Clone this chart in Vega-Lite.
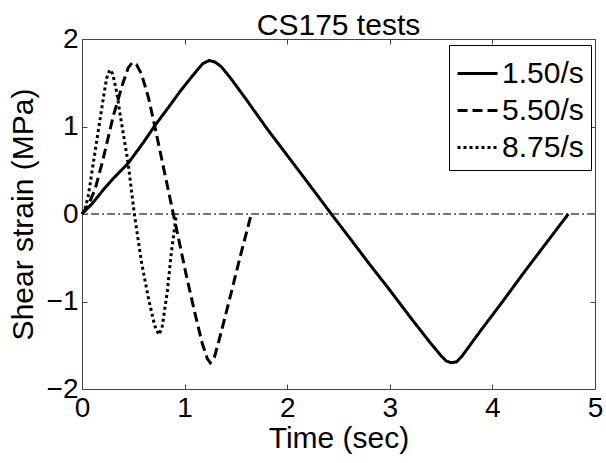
{
  "$schema": "https://vega.github.io/schema/vega-lite/v6.json",
  "width": 513,
  "height": 350,
  "autosize": {"type": "none"},
  "padding": {"left": 82, "top": 39, "right": 11, "bottom": 74},
  "background": "white",
  "title": {"text": "CS175 tests", "font": "Liberation Sans", "fontSize": 30, "fontWeight": "normal", "color": "black", "offset": -16},
  "config": {
    "view": {"stroke": "#444", "strokeWidth": 1},
    "axis": {"labelFont": "Liberation Sans", "titleFont": "Liberation Sans", "labelColor": "black", "titleColor": "black", "titleFontWeight": "normal", "grid": false, "domain": false, "tickColor": "#444", "tickSize": -5, "labelFontSize": 28, "titleFontSize": 30}
  },
  "data": {"values": [
    {"s": "1.50/s", "t": 0, "v": 0},
    {"s": "1.50/s", "t": 0.1, "v": 0.12},
    {"s": "1.50/s", "t": 0.21, "v": 0.28},
    {"s": "1.50/s", "t": 0.3, "v": 0.4},
    {"s": "1.50/s", "t": 0.45, "v": 0.58},
    {"s": "1.50/s", "t": 0.6, "v": 0.82},
    {"s": "1.50/s", "t": 0.71, "v": 1.01},
    {"s": "1.50/s", "t": 0.85, "v": 1.23},
    {"s": "1.50/s", "t": 0.955, "v": 1.4},
    {"s": "1.50/s", "t": 1.05, "v": 1.54},
    {"s": "1.50/s", "t": 1.12, "v": 1.64},
    {"s": "1.50/s", "t": 1.18, "v": 1.72},
    {"s": "1.50/s", "t": 1.24, "v": 1.755},
    {"s": "1.50/s", "t": 1.3, "v": 1.735},
    {"s": "1.50/s", "t": 1.36, "v": 1.68},
    {"s": "1.50/s", "t": 1.45, "v": 1.55},
    {"s": "1.50/s", "t": 1.6, "v": 1.31},
    {"s": "1.50/s", "t": 1.8, "v": 0.98},
    {"s": "1.50/s", "t": 2.0, "v": 0.67},
    {"s": "1.50/s", "t": 2.2, "v": 0.36},
    {"s": "1.50/s", "t": 2.43, "v": 0},
    {"s": "1.50/s", "t": 2.6, "v": -0.26},
    {"s": "1.50/s", "t": 2.8, "v": -0.57},
    {"s": "1.50/s", "t": 3.0, "v": -0.87},
    {"s": "1.50/s", "t": 3.2, "v": -1.18},
    {"s": "1.50/s", "t": 3.4, "v": -1.48},
    {"s": "1.50/s", "t": 3.5, "v": -1.62},
    {"s": "1.50/s", "t": 3.55, "v": -1.68},
    {"s": "1.50/s", "t": 3.6, "v": -1.7},
    {"s": "1.50/s", "t": 3.65, "v": -1.69},
    {"s": "1.50/s", "t": 3.7, "v": -1.63},
    {"s": "1.50/s", "t": 3.9, "v": -1.31},
    {"s": "1.50/s", "t": 4.1, "v": -1.0},
    {"s": "1.50/s", "t": 4.3, "v": -0.68},
    {"s": "1.50/s", "t": 4.5, "v": -0.37},
    {"s": "1.50/s", "t": 4.74, "v": 0},
    {"s": "5.50/s", "t": 0, "v": 0},
    {"s": "5.50/s", "t": 0.06, "v": 0.1},
    {"s": "5.50/s", "t": 0.127, "v": 0.28},
    {"s": "5.50/s", "t": 0.2, "v": 0.6},
    {"s": "5.50/s", "t": 0.305, "v": 1.12},
    {"s": "5.50/s", "t": 0.4, "v": 1.5},
    {"s": "5.50/s", "t": 0.45, "v": 1.67},
    {"s": "5.50/s", "t": 0.49, "v": 1.73},
    {"s": "5.50/s", "t": 0.53, "v": 1.71},
    {"s": "5.50/s", "t": 0.58, "v": 1.6},
    {"s": "5.50/s", "t": 0.65, "v": 1.32},
    {"s": "5.50/s", "t": 0.71, "v": 1.0},
    {"s": "5.50/s", "t": 0.8, "v": 0.5},
    {"s": "5.50/s", "t": 0.89, "v": 0},
    {"s": "5.50/s", "t": 0.95, "v": -0.33},
    {"s": "5.50/s", "t": 1.02, "v": -0.72},
    {"s": "5.50/s", "t": 1.1, "v": -1.13},
    {"s": "5.50/s", "t": 1.17, "v": -1.47},
    {"s": "5.50/s", "t": 1.22, "v": -1.65},
    {"s": "5.50/s", "t": 1.25, "v": -1.7},
    {"s": "5.50/s", "t": 1.29, "v": -1.64},
    {"s": "5.50/s", "t": 1.35, "v": -1.38},
    {"s": "5.50/s", "t": 1.45, "v": -0.92},
    {"s": "5.50/s", "t": 1.55, "v": -0.45},
    {"s": "5.50/s", "t": 1.65, "v": 0},
    {"s": "8.75/s", "t": 0, "v": 0},
    {"s": "8.75/s", "t": 0.03, "v": 0.06},
    {"s": "8.75/s", "t": 0.06, "v": 0.2},
    {"s": "8.75/s", "t": 0.11, "v": 0.58},
    {"s": "8.75/s", "t": 0.16, "v": 0.96},
    {"s": "8.75/s", "t": 0.21, "v": 1.34},
    {"s": "8.75/s", "t": 0.24, "v": 1.55},
    {"s": "8.75/s", "t": 0.27, "v": 1.65},
    {"s": "8.75/s", "t": 0.3, "v": 1.6},
    {"s": "8.75/s", "t": 0.34, "v": 1.38},
    {"s": "8.75/s", "t": 0.37, "v": 1.15},
    {"s": "8.75/s", "t": 0.45, "v": 0.58},
    {"s": "8.75/s", "t": 0.51, "v": 0},
    {"s": "8.75/s", "t": 0.58, "v": -0.55},
    {"s": "8.75/s", "t": 0.65, "v": -0.98},
    {"s": "8.75/s", "t": 0.71, "v": -1.28},
    {"s": "8.75/s", "t": 0.75, "v": -1.38},
    {"s": "8.75/s", "t": 0.78, "v": -1.3},
    {"s": "8.75/s", "t": 0.83, "v": -0.9},
    {"s": "8.75/s", "t": 0.87, "v": -0.45},
    {"s": "8.75/s", "t": 0.92, "v": 0}
  ]},
  "layer": [
    {
      "mark": {"type": "rule", "color": "#777", "strokeWidth": 1.2, "strokeDash": [8, 3, 2, 3]},
      "encoding": {"y": {"datum": 0, "type": "quantitative", "axis": null}}
    },
    {
      "mark": {"type": "line", "color": "black", "strokeWidth": 3},
      "encoding": {
        "x": {"field": "t", "type": "quantitative", "scale": {"domain": [0, 5], "nice": false, "zero": false},
              "axis": {"orient": "bottom", "values": [0, 1, 2, 3, 4, 5], "title": "Time (sec)", "labelPadding": 10, "titlePadding": 1, "labelFlush": false}},
        "y": {"field": "v", "type": "quantitative", "scale": {"domain": [-2, 2], "nice": false},
              "axis": {"orient": "left", "values": [-2, -1, 0, 1, 2], "title": "Shear strain (MPa)", "labelPadding": 9, "titlePadding": 8, "labelFlush": false}},
        "strokeDash": {"field": "s", "type": "nominal",
          "scale": {"domain": ["1.50/s", "5.50/s", "8.75/s"], "range": [[1, 0], [10, 5], [3, 3]]},
          "legend": {"orient": "none", "legendX": 367, "legendY": 6, "title": null, "fillColor": "white", "strokeColor": "black", "padding": 7, "labelFont": "Liberation Sans", "labelFontSize": 30, "labelColor": "black", "symbolType": "stroke", "symbolSize": 1600, "symbolStrokeWidth": 3, "symbolStrokeColor": "black", "rowPadding": -6, "labelOffset": 3, "cornerRadius": 0}},
        "detail": {"field": "s"}
      }
    },
    {
      "mark": {"type": "point", "opacity": 0},
      "encoding": {
        "x": {"field": "t", "type": "quantitative", "axis": {"orient": "top", "values": [0, 1, 2, 3, 4, 5], "labels": false, "title": null}},
        "y": {"field": "v", "type": "quantitative", "axis": {"orient": "right", "values": [-2, -1, 0, 1, 2], "labels": false, "title": null}}
      }
    }
  ]
}
